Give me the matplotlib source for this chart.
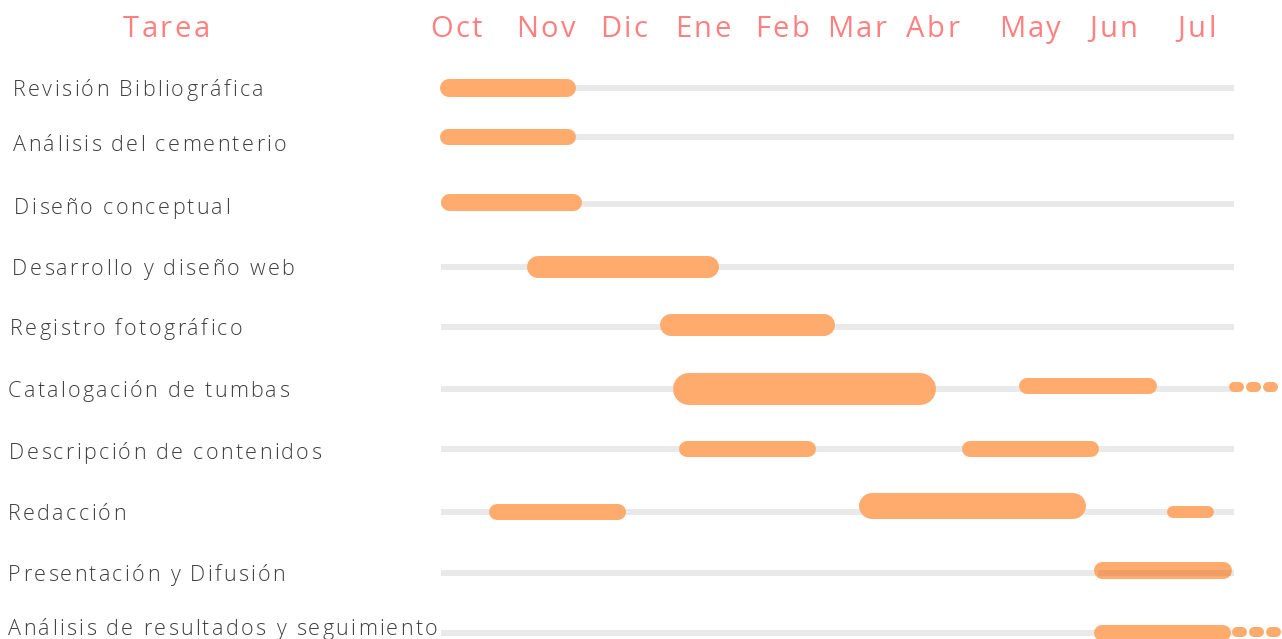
import matplotlib.pyplot as plt
from matplotlib import font_manager
from matplotlib.ft2font import FT2Font

plt.rcParams['font.family'] = ['Open Sans', 'DejaVu Sans']

# datos del cronograma (meses contados desde Octubre = 0)
months = ['Oct', 'Nov', 'Dic', 'Ene', 'Feb', 'Mar', 'Abr', 'May', 'Jun', 'Jul']
tasks = ['Revisión Bibliográfica', 'Análisis del cementerio', 'Diseño conceptual',
         'Desarrollo y diseño web', 'Registro fotográfico', 'Catalogación de tumbas',
         'Descripción de contenidos', 'Redacción', 'Presentación y Difusión',
         'Análisis de resultados y seguimiento']

seg_task = [0, 1, 2, 3, 4, 5, 5, 6, 6, 7, 7, 7, 8, 9]
seg_start = [-0.19, -0.19, -0.19, 0.86, 2.48, 2.64, 6.84, 2.71, 6.15, 0.40, 4.90, 8.64, 7.75, 7.75]
seg_end = [1.46, 1.46, 1.52, 3.20, 4.61, 5.83, 8.52, 4.37, 7.81, 2.07, 7.66, 9.21, 9.42, 9.42]

# tareas que siguen después de Julio
cont_task = [5, 9]
cont_start = [9.39, 9.43]

# maquetación
month_ticks = [0, 1.09, 2.04, 3.0, 3.96, 4.87, 5.79, 6.97, 7.99, 9.0]
row_pos = [0, 0.81, 1.92, 2.95, 3.94, 4.97, 5.96, 7.0, 8.0, 9.0]
label_dy = [0, 0.09, 0.02, 0, 0, 0, 0.03, 0, 0, -0.11]
label_x = [13, 13, 14, 12, 10, 8, 9, 8, 8, 8]
seg_px = [18, 16, 17, 22, 22, 32, 16, 16, 16, 16, 26, 12, 17, 16]
seg_dy = [0, 0, -0.04, 0, -0.03, 0, -0.05, 0, 0, 0, -0.1, 0, -0.05, 0]
px_x = 82.3   # pixeles por mes
px_y = 60.6   # pixeles por fila

orange = '#ffab6e'
header = '#ff8080'

fig = plt.figure(figsize=(12.82, 6.39), dpi=100)
ax = fig.add_axes([0, 0, 1, 1])
ax.set_xlim(-456 / px_x, (1282 - 456) / px_x)
ax.set_ylim((639 - 88) / px_y, -88 / px_y)
ax.axis('off')


def spaced_text(x_px, y, s, size, color, gap, weight='light', center=False):
    # texto con espaciado entre letras, letra por letra
    fp = font_manager.FontProperties(family='Open Sans', weight=weight, size=size)
    font = FT2Font(font_manager.findfont(fp))
    font.set_size(size, 100)
    adv = [font.load_char(ord(c)).linearHoriAdvance / 65536 for c in s]
    pos = x_px
    if center:
        pos -= (sum(adv) + gap * (len(s) - 1)) / 2
    for c, a in zip(s, adv):
        ax.text((pos - 456) / px_x, y, c, ha='left', va='baseline',
                fontproperties=fp, color=color)
        pos += a + gap


# líneas grises de fondo y nombres de tareas
for i, name in enumerate(tasks):
    y = row_pos[i]
    ax.plot([-0.18, 9.45], [y, y], color='#e9e9e9', lw=6 * 0.72,
            solid_capstyle='butt', zorder=1)
    spaced_text(label_x[i], y + label_dy[i] + 8 / px_y, name, 15.5, '#3f3f3f', 2.3)

# barras
for t, s, e, w, dy in zip(seg_task, seg_start, seg_end, seg_px, seg_dy):
    r = w / 2 / px_x
    y = row_pos[t] + dy
    ax.plot([s + r, e - r], [y, y], color=orange, lw=w * 0.72,
            solid_capstyle='round', zorder=2)
    if t == 8:
        # la línea gris se transparenta sobre esta barra
        ax.plot([s + r / 2, e], [row_pos[t], row_pos[t]], color='#a86a40',
                alpha=0.18, lw=6 * 0.72, solid_capstyle='butt', zorder=3)

# continuación (tres trazos cortos)
for t, s in zip(cont_task, cont_start):
    y = row_pos[t] - 0.03
    for k in range(3):
        a = s + k * 0.205
        ax.plot([a + 5 / px_x, a + 0.185 - 5 / px_x], [y, y], color=orange,
                lw=10 * 0.72, solid_capstyle='round', zorder=2)

# cabecera
hy = (37 - 88) / px_y
spaced_text(166, hy, 'Tarea', 21, header, 2.5, weight='normal', center=True)
for m, x in zip(months, month_ticks):
    spaced_text(456 + x * px_x, hy, m, 21, header, 2.5, weight='normal', center=True)

fig.savefig('out.png', dpi=100)
